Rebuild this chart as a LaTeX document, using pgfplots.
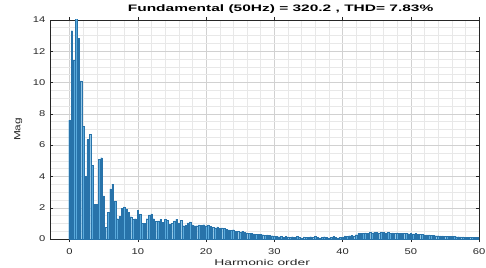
\documentclass[border=0pt]{standalone}
\usepackage{pgfplots}
\usepackage{pgfplotstable}
\pgfplotsset{compat=1.18}
\usepackage{fontspec}
\setmainfont{Liberation Sans}[FakeStretch=1.33]
\newfontfamily\widefont{Liberation Sans}[FakeStretch=1.65]
\definecolor{barfill}{RGB}{90,170,220}
\definecolor{baredge}{RGB}{40,115,170}

\pgfplotstableread{
k y
0 7.6
1 13.3
2 11.4
3 320.2
4 12.8
5 10.1
6 7.2
7 4.0
8 6.35
9 6.7
10 4.7
11 2.2
12 2.2
13 5.1
14 5.2
15 2.75
16 0.75
17 1.7
18 3.2
19 3.5
20 2.4
21 1.3
22 1.47
23 1.95
24 2.05
25 1.9
26 1.7
27 1.43
28 1.28
29 1.3
30 1.85
31 1.57
32 1.0
33 1.0
34 1.3
35 1.55
36 1.6
37 1.3
38 1.15
39 1.16
40 1.25
41 1.06
42 1.27
43 1.2
44 0.95
45 1.0
46 1.16
47 1.25
48 1.04
49 1.2
50 0.85
51 0.9
52 1.04
53 1.1
54 0.9
55 0.85
56 0.85
57 0.9
58 0.88
59 0.92
60 0.85
61 0.9
62 0.82
63 0.75
64 0.72
65 0.78
66 0.7
67 0.72
68 0.68
69 0.62
70 0.58
71 0.55
72 0.6
73 0.5
74 0.48
75 0.45
76 0.5
77 0.45
78 0.4
79 0.38
80 0.35
81 0.33
82 0.3
83 0.32
84 0.3
85 0.28
86 0.25
87 0.27
88 0.24
89 0.22
90 0.2
91 0.18
92 0.15
93 0.17
94 0.12
95 0.16
96 0.14
97 0.1
98 0.15
99 0.13
100 0.17
101 0.12
102 0.08
103 0.14
104 0.12
105 0.1
106 0.15
107 0.13
108 0.16
109 0.11
110 0.08
111 0.13
112 0.15
113 0.1
114 0.07
115 0.12
116 0.16
117 0.1
118 0.08
119 0.12
120 0.14
121 0.2
122 0.18
123 0.22
124 0.25
125 0.2
126 0.28
127 0.35
128 0.38
129 0.36
130 0.4
131 0.38
132 0.42
133 0.4
134 0.45
135 0.42
136 0.4
137 0.45
138 0.43
139 0.4
140 0.42
141 0.38
142 0.4
143 0.37
144 0.4
145 0.36
146 0.38
147 0.35
148 0.37
149 0.34
150 0.36
151 0.33
152 0.35
153 0.32
154 0.3
155 0.3
156 0.28
157 0.27
158 0.26
159 0.25
160 0.24
161 0.22
162 0.22
163 0.2
164 0.2
165 0.19
166 0.18
167 0.17
168 0.17
169 0.16
170 0.15
171 0.15
172 0.14
173 0.14
174 0.13
175 0.13
176 0.12
177 0.12
178 0.11
179 0.11
180 0.1
}\harm

\begin{document}
\begin{tikzpicture}
\begin{axis}[
  at={(0,0)}, anchor=south west,
  scale only axis, width=434pt, height=222pt,
  xmin=-2.8, xmax=60, ymin=0, ymax=14,
  xtick={0,10,...,60}, ytick={0,2,...,14},
  minor x tick num=4, minor y tick num=3,
  grid=both,
  major grid style={black!18, line width=0.4pt},
  minor grid style={black!9, line width=0.3pt},
  tick align=inside,
  major tick length=3pt, minor tick length=0pt,
  axis line style={black!85, line width=0.5pt},
  tick style={black!85, line width=0.4pt},
  /pgf/number format/assume math mode=true,
  tick label style={font=\fontsize{8.5}{10}\selectfont, text=black!85},
  xticklabel style={anchor=north, inner sep=0pt, yshift=-6pt},
  yticklabel style={anchor=east, inner sep=0pt, xshift=-5pt},
  title={Fundamental (50Hz) = 320.2 , THD= 7.83\%},
  title style={font=\widefont\bfseries\fontsize{9.5}{11}\selectfont, at={(axis description cs:0.537,1)}, anchor=base, yshift=2.5pt, inner sep=0pt},
  xlabel={Harmonic order},
  xlabel style={font=\widefont\fontsize{8.5}{10}\selectfont, at={(axis description cs:0.494,-0.105)}, anchor=center, inner sep=0pt, text=black!85},
  ylabel={Mag},
  ylabel style={font=\fontsize{9}{10}\selectfont, at={(axis description cs:-0.075,0.5)}, anchor=center, inner sep=0pt, text=black!85},
  ybar, bar width=0.22, bar shift=0pt,
  clip=true,
]
\addplot[fill=barfill, draw=baredge, line width=0.2pt] table[x expr=\thisrow{k}/3, y=y] {\harm};
\end{axis}
\pgfresetboundingbox
\useasboundingbox (-51pt,-29pt) rectangle (441pt,242pt);
\end{tikzpicture}
\end{document}
